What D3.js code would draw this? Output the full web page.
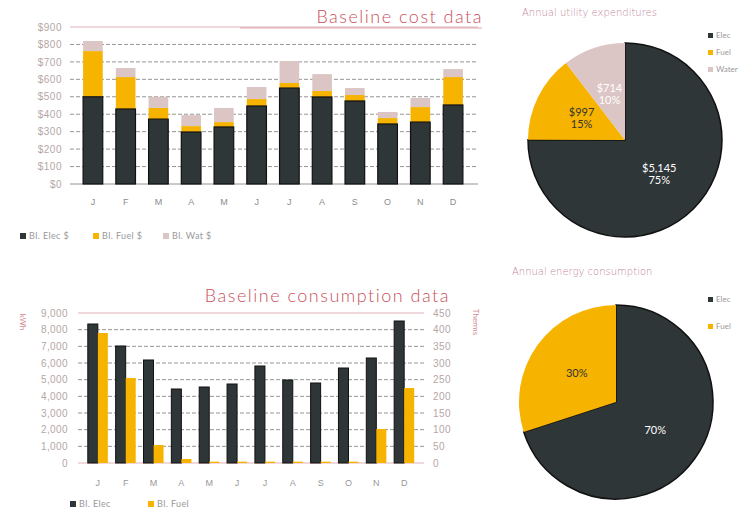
<!DOCTYPE html>
<html>
<head>
<meta charset="utf-8">
<script src="https://cdn.jsdelivr.net/npm/d3@7"></script>
<style>
  html, body { margin: 0; padding: 0; background: #fff; }
  svg { display: block; font-family: "Lato", "Noto Sans", sans-serif; }
</style>
</head>
<body>
<script>
// Month labels (shared by both bar charts)
const months = ["J", "F", "M", "A", "M", "J", "J", "A", "S", "O", "N", "D"];

// Baseline cost data ($ per month)
const costElec  = [500, 430, 372, 298, 327, 447, 550, 499, 476, 344, 355, 453];
const costFuel  = [262, 183, 64, 34, 28, 40, 29, 34, 34, 34, 86, 160];
const costWater = [58, 52, 64, 63, 81, 69, 126, 97, 40, 35, 52, 46];
const costTicks = [0, 100, 200, 300, 400, 500, 600, 700, 800, 900];

// Annual utility expenditures
const expLabels = ["Elec", "Fuel", "Water"];
const expValues = [5145, 997, 714];

// Baseline consumption data (kWh, therms)
const useElec = [8340, 7020, 6180, 4440, 4560, 4740, 5820, 4980, 4800, 5700, 6300, 8520];
const useFuel = [390, 255, 54, 12, 4, 4, 4, 4, 4, 4, 102, 225];
const kwhTicks = [0, 1000, 2000, 3000, 4000, 5000, 6000, 7000, 8000, 9000];
const thermTicks = [0, 50, 100, 150, 200, 250, 300, 350, 400, 450];

// Annual energy consumption (%)
const energyLabels = ["Elec", "Fuel"];
const energyShares = [70, 30];

const W = 743, H = 517;
const cElec = "#2f3638", cFuel = "#f6b300", cWater = "#dcc6c5";
const red = "#c8505c", tickCol = "#b5a6a6", gridCol = "#7a7a7a";

const svg = d3.select("body").append("svg")
    .attr("width", W).attr("height", H)
    .attr("viewBox", [0, 0, W, H]);

// ---------- Baseline cost data ----------
{
    const x = d3.scaleBand().domain(d3.range(12)).range([70, 476]).padding(0.4);
    const y = d3.scaleLinear().domain([0, 900]).range([184, 27]);
    const g = svg.append("g");

    g.selectAll(".grid").data(costTicks).join("line")
        .attr("x1", 70).attr("x2", 478)
        .attr("y1", d => y(d)).attr("y2", d => y(d))
        .attr("stroke", d => d === 900 ? "#d9a0a6" : gridCol)
        .attr("stroke-width", 0.8)
        .attr("stroke-dasharray", d => d === 0 || d === 900 ? null : "4,2");

    g.append("line")
        .attr("x1", 240).attr("x2", 482).attr("y1", 28).attr("y2", 28)
        .attr("stroke", "#d38f98").attr("stroke-width", 0.8);

    const yAxis = g.append("g")
        .attr("transform", "translate(62,0)")
        .call(d3.axisLeft(y).tickValues(costTicks).tickSize(0).tickPadding(0)
            .tickFormat(d => "$" + d));
    yAxis.select(".domain").remove();
    yAxis.selectAll("text").attr("fill", tickCol).style("font-size", "10px")
        .style("letter-spacing", "0.5px");

    const xAxis = g.append("g")
        .attr("transform", "translate(0,196)")
        .call(d3.axisBottom(x).tickSize(0).tickFormat(i => months[i]));
    xAxis.select(".domain").remove();
    xAxis.selectAll("text").attr("fill", "#8c8c8c").style("font-size", "9px");

    const stack = d3.stack().keys(["elec", "fuel", "water"])(
        d3.range(12).map(i => ({ i, elec: costElec[i], fuel: costFuel[i], water: costWater[i] })));
    const colors = { elec: cElec, fuel: cFuel, water: cWater };

    g.selectAll(".layer").data(stack).join("g")
        .attr("fill", d => colors[d.key])
        .selectAll("rect").data(d => d).join("rect")
        .attr("x", d => x(d.data.i))
        .attr("width", x.bandwidth())
        .attr("y", d => y(d[1]))
        .attr("height", d => y(d[0]) - y(d[1]));

    // dark outline around electric segment
    g.selectAll(".elec-outline").data(costElec).join("rect")
        .attr("x", (d, i) => x(i)).attr("width", x.bandwidth())
        .attr("y", d => y(d)).attr("height", d => y(0) - y(d))
        .attr("fill", "none").attr("stroke", "#111").attr("stroke-width", 1.2);

    g.append("text")
        .attr("x", 483).attr("y", 23).attr("text-anchor", "end")
        .attr("fill", red).style("font-size", "18px").style("font-weight", 300)
        .style("letter-spacing", "1.5px")
        .text("Baseline cost data");

    const leg = g.selectAll(".leg").data(["Bl. Elec $", "Bl. Fuel $", "Bl. Wat $"]).join("g")
        .attr("transform", (d, i) => `translate(${[20, 93, 163][i]},238)`);
    leg.append("rect").attr("y", -5).attr("width", 6).attr("height", 6)
        .attr("fill", (d, i) => [cElec, cFuel, cWater][i]);
    leg.append("text").attr("x", 9).attr("y", 1).attr("fill", "#999")
        .style("font-size", "9px").style("letter-spacing", "0.4px").text(d => d);
}

// ---------- Pie helper ----------
function pie(cx, cy, r, labels, values, colors, texts, textCols, title, legY) {
    const g = svg.append("g").attr("transform", `translate(${cx},${cy})`);
    const arcs = d3.pie().sort(null)(values);
    const arc = d3.arc().innerRadius(0).outerRadius(r);
    g.selectAll("path").data(arcs).join("path")
        .attr("d", arc)
        .attr("fill", (d, i) => colors[i])
        .attr("stroke", (d, i) => i === 0 ? "#111" : "none")
        .attr("stroke-width", 1.5);
    const lab = d3.arc().innerRadius(r * 0.5).outerRadius(r * 0.5);
    g.selectAll(".lbl").data(arcs).join("text")
        .attr("transform", d => `translate(${lab.centroid(d)})`)
        .attr("text-anchor", "middle")
        .attr("fill", (d, i) => textCols[i])
        .style("font-size", "11px")
        .each(function (d, i) {
            const lines = texts[i];
            d3.select(this).selectAll("tspan").data(lines).join("tspan")
                .attr("x", 0)
                .attr("dy", (t, k) => k === 0 ? `${-(lines.length - 1) * 0.55 + 0.35}em` : "1.1em")
                .text(t => t);
        });
    svg.append("text")
        .attr("x", title.x).attr("y", title.y)
        .attr("fill", "#c38aa0").style("font-size", "10px").style("font-weight", 300)
        .style("font-family", "'DejaVu Sans', sans-serif")
        .text(title.text);
    const leg = svg.selectAll(null).data(labels).join("g")
        .attr("transform", (d, i) => `translate(708,${legY[i]})`);
    leg.append("rect").attr("y", -5).attr("width", 5).attr("height", 5)
        .attr("fill", (d, i) => colors[i]);
    leg.append("text").attr("x", 8).attr("y", 0).attr("fill", "#999")
        .style("font-size", "8px").text(d => d);
}

{
    const total = d3.sum(expValues);
    const texts = expValues.map(v => ["$" + d3.format(",")(v), Math.round(v / total * 100) + "%"]);
    pie(625, 140, 97, expLabels, expValues, [cElec, cFuel, cWater], texts,
        ["#fff", "#333", "#fff"], { text: "Annual utility expenditures", x: 522, y: 16 }, [38, 55, 72]);
}

// ---------- Baseline consumption data ----------
{
    const x = d3.scaleBand().domain(d3.range(12)).range([80, 422]).padding(0.28);
    const xs = d3.scaleBand().domain([0, 1]).range([0, x.bandwidth()]);
    const yL = d3.scaleLinear().domain([0, 9000]).range([463, 313]);
    const yR = d3.scaleLinear().domain([0, 450]).range([463, 313]);
    const g = svg.append("g");

    g.selectAll(".grid").data(kwhTicks).join("line")
        .attr("x1", 78).attr("x2", 424)
        .attr("y1", d => yL(d)).attr("y2", d => yL(d))
        .attr("stroke", d => d === 9000 || d === 0 ? "#d9a0a6" : gridCol)
        .attr("stroke-width", 0.8)
        .attr("stroke-dasharray", d => d === 0 || d === 9000 ? null : "4,2");

    const ya = g.append("g").attr("transform", "translate(68,0)")
        .call(d3.axisLeft(yL).tickValues(kwhTicks).tickSize(0).tickPadding(0)
            .tickFormat(d3.format(",")));
    ya.select(".domain").remove();
    ya.selectAll("text").attr("fill", tickCol).style("font-size", "10px")
        .style("letter-spacing", "0.4px");

    const yb = g.append("g").attr("transform", "translate(433,0)")
        .call(d3.axisRight(yR).tickValues(thermTicks).tickSize(0).tickPadding(0));
    yb.select(".domain").remove();
    yb.selectAll("text").attr("fill", tickCol).style("font-size", "10px")
        .style("letter-spacing", "0.4px");

    const xa = g.append("g").attr("transform", "translate(0,477)")
        .call(d3.axisBottom(x).tickSize(0).tickFormat(i => months[i]));
    xa.select(".domain").remove();
    xa.selectAll("text").attr("fill", "#999").style("font-size", "9px");

    g.selectAll(".elec").data(useElec).join("rect")
        .attr("x", (d, i) => x(i) + xs(0)).attr("width", xs.bandwidth())
        .attr("y", d => yL(d)).attr("height", d => yL(0) - yL(d))
        .attr("fill", cElec).attr("stroke", "#111").attr("stroke-width", 1);
    g.selectAll(".fuel").data(useFuel).join("rect")
        .attr("x", (d, i) => x(i) + xs(1)).attr("width", xs.bandwidth())
        .attr("y", d => yR(d)).attr("height", d => yR(0) - yR(d))
        .attr("fill", cFuel);

    g.append("text")
        .attr("x", 450).attr("y", 302).attr("text-anchor", "end")
        .attr("fill", red).style("font-size", "18px").style("font-weight", 300)
        .style("letter-spacing", "1.5px")
        .text("Baseline consumption data");
    g.append("text").attr("transform", "translate(20,322) rotate(90)")
        .attr("text-anchor", "middle").attr("fill", "#d58a92")
        .style("font-size", "8px").text("kWh");
    g.append("text").attr("transform", "translate(473,322) rotate(90)")
        .attr("text-anchor", "middle").attr("fill", "#d58a92")
        .style("font-size", "8px").text("Therms");

    const leg = g.selectAll(".leg").data(["Bl. Elec", "Bl. Fuel"]).join("g")
        .attr("transform", (d, i) => `translate(${[70, 148][i]},506)`);
    leg.append("rect").attr("y", -5).attr("width", 6).attr("height", 6)
        .attr("fill", (d, i) => [cElec, cFuel][i]);
    leg.append("text").attr("x", 9).attr("y", 1).attr("fill", "#999")
        .style("font-size", "9px").style("letter-spacing", "0.4px").text(d => d);
}

{
    const texts = energyShares.map(v => [v + "%"]);
    pie(616, 402, 97, energyLabels, energyShares, [cElec, cFuel], texts,
        ["#fff", "#333"], { text: "Annual energy consumption", x: 512, y: 275 }, [302, 329]);
}
</script>
</body>
</html>
